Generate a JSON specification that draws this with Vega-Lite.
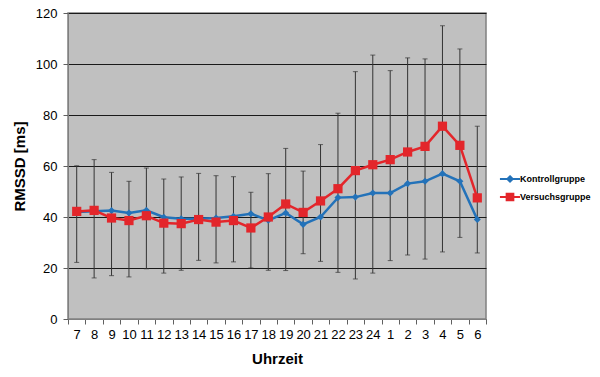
{
  "$schema": "https://vega.github.io/schema/vega-lite/v6.json",
  "autosize": "none",
  "padding": {"left": 68, "top": 13, "right": 114, "bottom": 58},
  "width": 418,
  "height": 306,
  "background": "white",
  "config": {
    "font": "Liberation Sans",
    "view": {"fill": "#c0c0c0", "stroke": "#808080", "strokeWidth": 1.5}
  },
  "datasets": {
    "means": [
      {"hour": "7", "group": "Kontrollgruppe", "value": 42.0},
      {"hour": "8", "group": "Kontrollgruppe", "value": 42.3},
      {"hour": "9", "group": "Kontrollgruppe", "value": 42.5},
      {"hour": "10", "group": "Kontrollgruppe", "value": 41.6},
      {"hour": "11", "group": "Kontrollgruppe", "value": 42.6},
      {"hour": "12", "group": "Kontrollgruppe", "value": 39.9},
      {"hour": "13", "group": "Kontrollgruppe", "value": 39.3},
      {"hour": "14", "group": "Kontrollgruppe", "value": 39.3},
      {"hour": "15", "group": "Kontrollgruppe", "value": 39.6},
      {"hour": "16", "group": "Kontrollgruppe", "value": 40.3},
      {"hour": "17", "group": "Kontrollgruppe", "value": 41.3},
      {"hour": "18", "group": "Kontrollgruppe", "value": 38.7},
      {"hour": "19", "group": "Kontrollgruppe", "value": 41.6},
      {"hour": "20", "group": "Kontrollgruppe", "value": 37.1},
      {"hour": "21", "group": "Kontrollgruppe", "value": 40.0},
      {"hour": "22", "group": "Kontrollgruppe", "value": 47.6},
      {"hour": "23", "group": "Kontrollgruppe", "value": 47.8},
      {"hour": "24", "group": "Kontrollgruppe", "value": 49.4},
      {"hour": "1", "group": "Kontrollgruppe", "value": 49.4},
      {"hour": "2", "group": "Kontrollgruppe", "value": 53.1},
      {"hour": "3", "group": "Kontrollgruppe", "value": 54.0},
      {"hour": "4", "group": "Kontrollgruppe", "value": 57.0},
      {"hour": "5", "group": "Kontrollgruppe", "value": 54.0},
      {"hour": "6", "group": "Kontrollgruppe", "value": 39.0},
      {"hour": "7", "group": "Versuchsgruppe", "value": 42.2},
      {"hour": "8", "group": "Versuchsgruppe", "value": 42.6},
      {"hour": "9", "group": "Versuchsgruppe", "value": 39.6},
      {"hour": "10", "group": "Versuchsgruppe", "value": 38.6},
      {"hour": "11", "group": "Versuchsgruppe", "value": 40.5},
      {"hour": "12", "group": "Versuchsgruppe", "value": 37.6},
      {"hour": "13", "group": "Versuchsgruppe", "value": 37.4},
      {"hour": "14", "group": "Versuchsgruppe", "value": 39.0},
      {"hour": "15", "group": "Versuchsgruppe", "value": 38.0},
      {"hour": "16", "group": "Versuchsgruppe", "value": 38.6},
      {"hour": "17", "group": "Versuchsgruppe", "value": 35.7},
      {"hour": "18", "group": "Versuchsgruppe", "value": 40.0},
      {"hour": "19", "group": "Versuchsgruppe", "value": 45.1},
      {"hour": "20", "group": "Versuchsgruppe", "value": 41.8},
      {"hour": "21", "group": "Versuchsgruppe", "value": 46.3},
      {"hour": "22", "group": "Versuchsgruppe", "value": 51.1},
      {"hour": "23", "group": "Versuchsgruppe", "value": 58.2},
      {"hour": "24", "group": "Versuchsgruppe", "value": 60.5},
      {"hour": "1", "group": "Versuchsgruppe", "value": 62.5},
      {"hour": "2", "group": "Versuchsgruppe", "value": 65.5},
      {"hour": "3", "group": "Versuchsgruppe", "value": 67.7},
      {"hour": "4", "group": "Versuchsgruppe", "value": 75.6},
      {"hour": "5", "group": "Versuchsgruppe", "value": 68.1},
      {"hour": "6", "group": "Versuchsgruppe", "value": 47.5}
    ],
    "errors": [
      {"hour": "7", "low": 22.2, "high": 60.1},
      {"hour": "8", "low": 16.1, "high": 62.5},
      {"hour": "9", "low": 17.0, "high": 57.5},
      {"hour": "10", "low": 16.5, "high": 54.0},
      {"hour": "11", "low": 19.7, "high": 59.2},
      {"hour": "12", "low": 18.0, "high": 54.9},
      {"hour": "13", "low": 19.1, "high": 55.7},
      {"hour": "14", "low": 23.0, "high": 57.1},
      {"hour": "15", "low": 22.0, "high": 56.2},
      {"hour": "16", "low": 22.4, "high": 55.8},
      {"hour": "17", "low": 20.0, "high": 49.7},
      {"hour": "18", "low": 19.1, "high": 57.0},
      {"hour": "19", "low": 19.0, "high": 66.9},
      {"hour": "20", "low": 25.6, "high": 58.0},
      {"hour": "21", "low": 22.6, "high": 68.4},
      {"hour": "22", "low": 18.3, "high": 80.7},
      {"hour": "23", "low": 15.7, "high": 97.0},
      {"hour": "24", "low": 18.0, "high": 103.5},
      {"hour": "1", "low": 22.9, "high": 97.4},
      {"hour": "2", "low": 25.1, "high": 102.4},
      {"hour": "3", "low": 23.5, "high": 102.0},
      {"hour": "4", "low": 26.3, "high": 115.0},
      {"hour": "5", "low": 32.0, "high": 105.9},
      {"hour": "6", "low": 25.9, "high": 75.6}
    ]
  },
  "encoding": {
    "x": {
      "field": "hour",
      "type": "ordinal",
      "scale": {
        "type": "band",
        "paddingInner": 0,
        "paddingOuter": 0,
        "domain": ["7","8","9","10","11","12","13","14","15","16","17","18","19","20","21","22","23","24","1","2","3","4","5","6"]
      },
      "axis": {
        "title": "Uhrzeit",
        "titleFontSize": 15,
        "titleFontWeight": "bold",
        "titleColor": "#000",
        "titlePadding": 10,
        "labelAngle": 0,
        "labelFontSize": 13,
        "labelColor": "#000",
        "labelPadding": 4,
        "labelOverlap": false,
        "tickBand": "extent",
        "tickSize": 5,
        "tickColor": "#606060",
        "domainColor": "#808080",
        "grid": false
      }
    }
  },
  "layer": [
    {
      "data": {"name": "errors"},
      "mark": {"type": "rule", "color": "#333333", "strokeWidth": 1},
      "encoding": {
        "y": {
          "field": "low",
          "type": "quantitative",
          "scale": {"domain": [0, 120], "nice": false},
          "axis": {
            "title": "RMSSD [ms]",
            "titleFontSize": 15,
            "titleFontWeight": "bold",
            "titleColor": "#000",
            "titlePadding": 8,
            "values": [0, 20, 40, 60, 80, 100, 120],
            "labelFontSize": 13,
            "labelColor": "#000",
            "labelPadding": 6,
            "tickSize": 5,
            "tickColor": "#606060",
            "domainColor": "#808080",
            "grid": true,
            "gridColor": "#1a1a1a",
            "gridWidth": 1,
            "gridOpacity": 1
          }
        },
        "y2": {"field": "high"}
      }
    },
    {
      "data": {"name": "errors"},
      "mark": {"type": "tick", "orient": "horizontal", "color": "#333333", "size": 5, "thickness": 1},
      "encoding": {"y": {"field": "low", "type": "quantitative"}}
    },
    {
      "data": {"name": "errors"},
      "mark": {"type": "tick", "orient": "horizontal", "color": "#333333", "size": 5, "thickness": 1},
      "encoding": {"y": {"field": "high", "type": "quantitative"}}
    },
    {
      "data": {"name": "means"},
      "mark": {"type": "line", "strokeWidth": 2.5},
      "encoding": {
        "y": {"field": "value", "type": "quantitative"},
        "color": {
          "field": "group",
          "type": "nominal",
          "scale": {"domain": ["Kontrollgruppe", "Versuchsgruppe"], "range": ["#2372b9", "#e3262b"]},
          "legend": {
            "title": null,
            "orient": "none",
            "legendX": 434,
            "legendY": 158,
            "labelFontSize": 9,
            "labelFontWeight": "bold",
            "labelColor": "#000",
            "labelOffset": 2,
            "rowPadding": 3,
            "symbolSize": 180,
            "symbolStrokeWidth": 2,
            "encode": {
              "symbols": {
                "update": {
                  "shape": {"signal": "datum.value === 'Kontrollgruppe' ? 'M-1.5,0H1.5M0,-0.4L0.4,0L0,0.4L-0.4,0Z' : 'M-1.5,0H1.5M-0.5,-0.5H0.5V0.5H-0.5Z'"},
                  "fill": {"scale": "color", "field": "value"},
                  "stroke": {"scale": "color", "field": "value"},
                  "strokeWidth": {"value": 2}
                }
              }
            }
          }
        },
        "order": {"field": "group"}
      }
    },
    {
      "data": {"name": "means"},
      "mark": {"type": "point", "filled": true, "opacity": 1},
      "encoding": {
        "y": {"field": "value", "type": "quantitative"},
        "color": {"field": "group", "type": "nominal", "legend": null},
        "shape": {
          "condition": {"test": "datum.group === 'Kontrollgruppe'", "value": "diamond"},
          "value": "square"
        },
        "size": {
          "condition": {"test": "datum.group === 'Kontrollgruppe'", "value": 50},
          "value": 85
        },
        "order": {"field": "group"}
      }
    }
  ]
}
